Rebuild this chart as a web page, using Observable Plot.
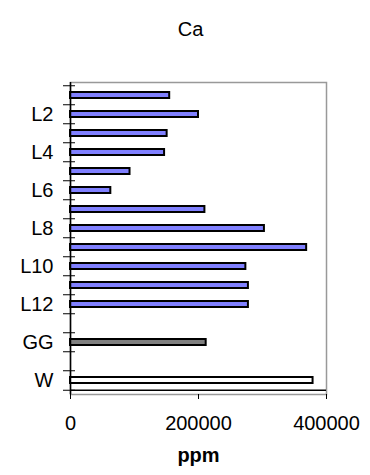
<!DOCTYPE html>
<html><head><meta charset="utf-8">
<script src="https://cdn.jsdelivr.net/npm/d3@7"></script>
<script src="https://cdn.jsdelivr.net/npm/@observablehq/plot@0.6"></script>
<style>body{margin:0;background:#fff} svg{display:block}</style>
</head><body><div id="chart"></div>
<script>
const title = "Ca";
const xLabel = "ppm";
const categories = ["L1","L2","L3","L4","L5","L6","L7","L8","L9","L10","L11","L12","gap1","GG","gap2","W"];
const samples = ["L1","L2","L3","L4","L5","L6","L7","L8","L9","L10","L11","L12","GG","W"];
const values = [155000, 200000, 151000, 147000, 93000, 63000, 210000, 303000, 369000, 274000, 278000, 278000, 212000, 379000];
const kinds = ["L","L","L","L","L","L","L","L","L","L","L","L","GG","W"];
const yTickLabels = ["L2","L4","L6","L8","L10","L12","GG","W"];
const xTicks = [0, 200000, 400000];
const kindDomain = ["L","GG","W"];
const kindColors = ["#8080ff","#808080","#ffffff"];

const rows = samples.map((s, i) => ({sample: s, value: values[i], kind: kinds[i]}));

const width = 370, height = 475;
const marginLeft = 70, marginRight = 44, marginTop = 82, marginBottom = 81;
const step = (height - marginTop - marginBottom) / categories.length;

const chart = Plot.plot({
  width, height, marginLeft, marginRight, marginTop, marginBottom,
  style: {fontFamily: "'Liberation Sans', Arial, sans-serif", fontSize: "20px", color: "#000", background: "#fff"},
  x: {domain: [0, 400000]},
  y: {domain: categories, paddingInner: 0.66, paddingOuter: 0.33, align: 0.5},
  color: {domain: kindDomain, range: kindColors},
  marks: [
    Plot.frame({stroke: "#999", strokeWidth: 1.5}),
    Plot.barX(rows, {x: "value", y: "sample", fill: "kind", stroke: "#000", strokeWidth: 2}),
    Plot.ruleX([0], {stroke: "#000", strokeWidth: 1.5}),
    Plot.ruleY(["W"], {dy: step / 2, stroke: "#000", strokeWidth: 1.5}),
    Plot.axisX({ticks: xTicks, tickSize: 5, tickPadding: 16, tickFormat: d => String(d), label: null, fontSize: 20}),
    Plot.axisY({ticks: yTickLabels, tickSize: 0, tickPadding: 17, label: null, fontSize: 20}),
    Plot.axisY({ticks: categories, tickSize: 12, dx: 5, dy: -step / 2, tickFormat: () => "", label: null}),
    Plot.axisY({ticks: ["W"], tickSize: 12, dx: 5, dy: step / 2, tickFormat: () => "", label: null}),
    Plot.text([title], {frameAnchor: "top", dy: -61, dx: -8, fontSize: 20}),
    Plot.text([xLabel], {frameAnchor: "bottom", dy: 67, fontSize: 20, fontWeight: "bold"})
  ]
});
document.getElementById("chart").appendChild(chart);
</script>
</body></html>
